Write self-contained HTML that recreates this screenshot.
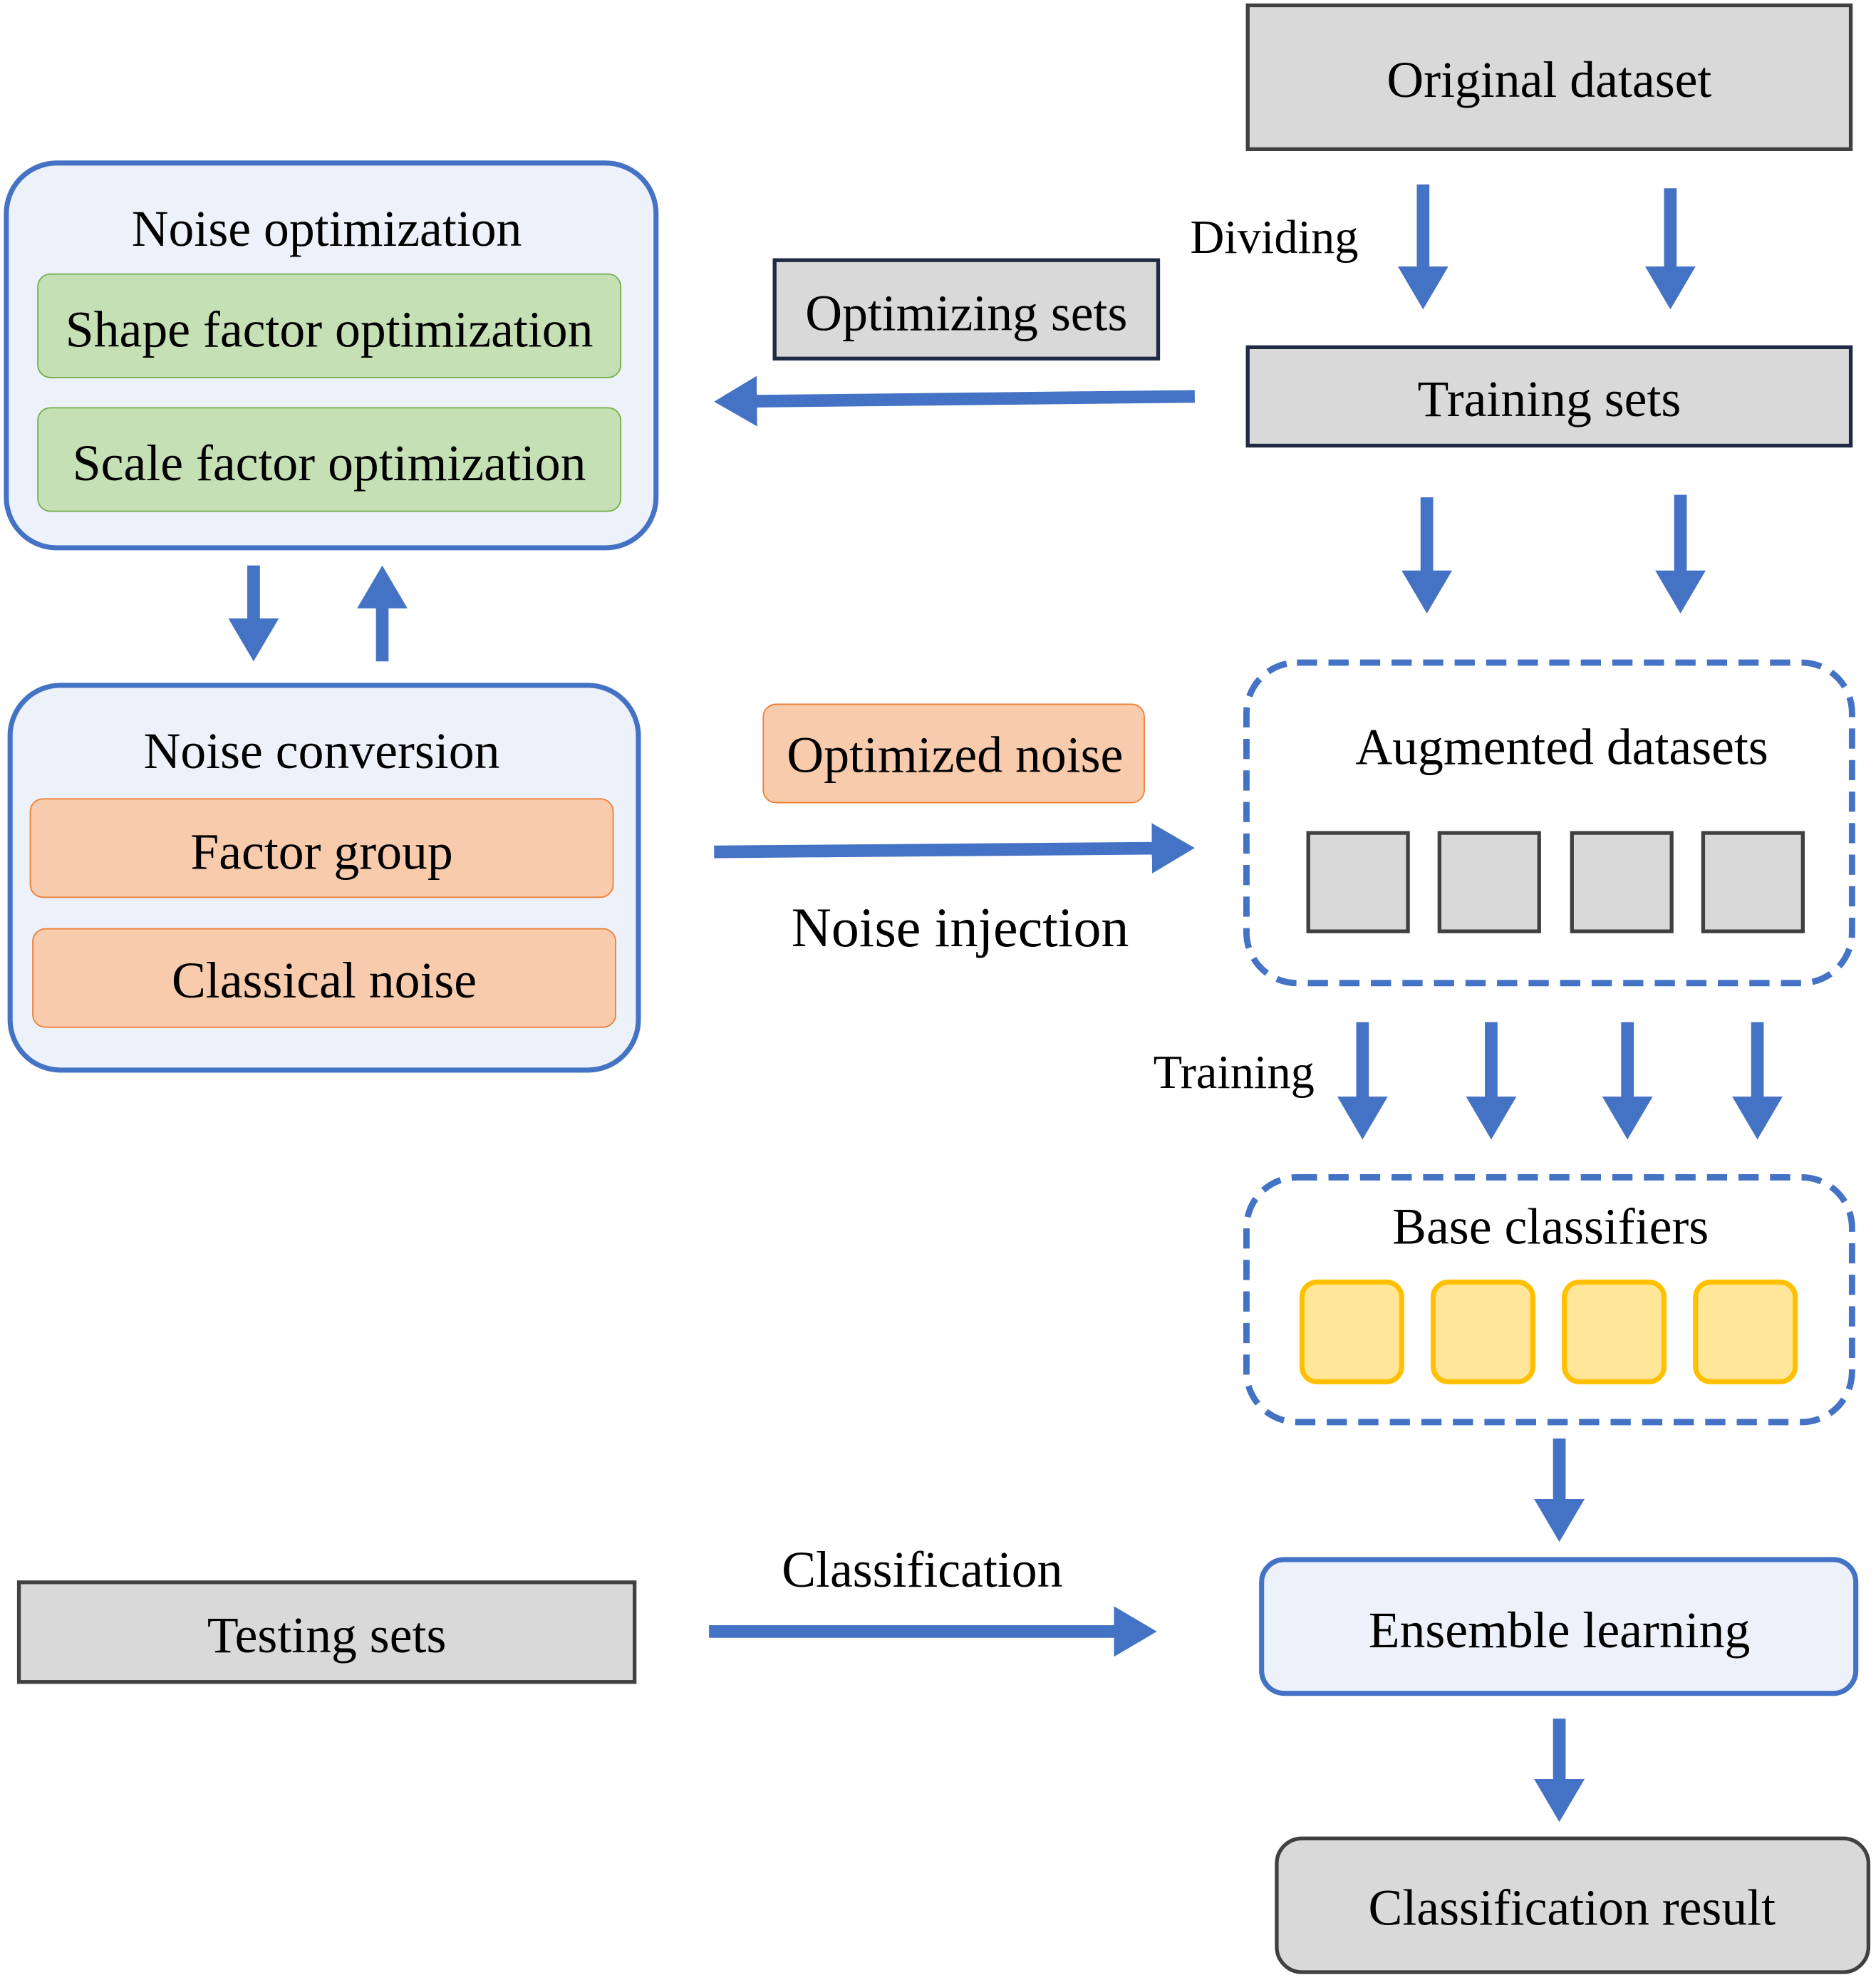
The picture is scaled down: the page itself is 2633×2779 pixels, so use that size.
<!DOCTYPE html>
<html><head><meta charset="utf-8"><style>
html,body{margin:0;padding:0;background:#fff;}
svg{display:block;}
text{font-family:"Liberation Serif",serif;fill:#000;}
</style></head><body>
<svg width="2633" height="2779" viewBox="0 0 1487 1569" xmlns="http://www.w3.org/2000/svg">
<defs>
<marker id="ah" markerWidth="4" markerHeight="4" refX="2.2" refY="2" orient="auto" markerUnits="strokeWidth">
<path d="M0,0 L3.4,2 L0,4 z" fill="#4472c4"/>
</marker>
</defs>
<rect width="1487" height="1569" fill="#fff"/>
<g stroke="#4472c4" stroke-width="10" fill="none" marker-end="url(#ah)">
<line x1="1128" y1="146" x2="1128" y2="233"/>
<line x1="1324" y1="149" x2="1324" y2="233"/>
<line x1="947" y1="314" x2="578" y2="318"/>
<line x1="201" y1="448" x2="201" y2="512"/>
<line x1="303" y1="524" x2="303" y2="460"/>
<line x1="566" y1="675" x2="935" y2="672"/>
<line x1="1131" y1="394" x2="1131" y2="474"/>
<line x1="1332" y1="392" x2="1332" y2="474"/>
<line x1="1080" y1="810" x2="1080" y2="891"/>
<line x1="1182" y1="810" x2="1182" y2="891"/>
<line x1="1290" y1="810" x2="1290" y2="891"/>
<line x1="1393" y1="810" x2="1393" y2="891"/>
<line x1="1236" y1="1140" x2="1236" y2="1210"/>
<line x1="1236" y1="1362" x2="1236" y2="1432"/>
<line x1="562" y1="1293" x2="905" y2="1293"/>
</g>
<g font-size="40.5" text-anchor="middle" dominant-baseline="central">
<rect x="989" y="4" width="478" height="114" fill="#d9d9d9" stroke="#404040" stroke-width="3"/>
<text x="1228" y="63">Original dataset</text>
<text x="1010" y="188" font-size="37.5">Dividing</text>
<rect x="614" y="206" width="304" height="78" fill="#d9d9d9" stroke="#1f2a44" stroke-width="3"/>
<text x="766" y="248">Optimizing sets</text>
<rect x="989" y="275" width="478" height="78" fill="#d9d9d9" stroke="#1f2a44" stroke-width="3"/>
<text x="1228" y="316">Training sets</text>

<rect x="5" y="129" width="515" height="305" rx="40" fill="#edf2fa" stroke="#4472c4" stroke-width="4"/>
<text x="259" y="181">Noise optimization</text>
<rect x="30" y="217" width="462" height="82" rx="10" fill="#c5e0b4" stroke="#70ad47" stroke-width="1"/>
<text x="261" y="261">Shape factor optimization</text>
<rect x="30" y="323" width="462" height="82" rx="10" fill="#c5e0b4" stroke="#70ad47" stroke-width="1"/>
<text x="261" y="367">Scale factor optimization</text>

<rect x="8" y="543" width="498" height="305" rx="40" fill="#edf2fa" stroke="#4472c4" stroke-width="4"/>
<text x="255" y="595">Noise conversion</text>
<rect x="24" y="633" width="462" height="78" rx="10" fill="#f8cbad" stroke="#ed7d31" stroke-width="1"/>
<text x="255" y="675">Factor group</text>
<rect x="26" y="736" width="462" height="78" rx="10" fill="#f8cbad" stroke="#ed7d31" stroke-width="1"/>
<text x="257" y="777">Classical noise</text>

<rect x="605" y="558" width="302" height="78" rx="10" fill="#f8cbad" stroke="#ed7d31" stroke-width="1"/>
<text x="757" y="598">Optimized noise</text>
<text x="761" y="735" font-size="44">Noise injection</text>

<rect x="988" y="525" width="480" height="254" rx="40" fill="#fff" stroke="#4472c4" stroke-width="5" stroke-dasharray="16,9"/>
<text x="1238" y="592">Augmented datasets</text>
<g fill="#d9d9d9" stroke="#404040" stroke-width="3">
<rect x="1037" y="660" width="79" height="78"/>
<rect x="1141" y="660" width="79" height="78"/>
<rect x="1246" y="660" width="79" height="78"/>
<rect x="1350" y="660" width="79" height="78"/>
</g>
<text x="978" y="850" font-size="37.5">Training</text>

<rect x="988" y="933" width="480" height="194" rx="40" fill="#fff" stroke="#4472c4" stroke-width="5" stroke-dasharray="16,9"/>
<text x="1229" y="972">Base classifiers</text>
<g fill="#ffe699" stroke="#ffc000" stroke-width="4">
<rect x="1032" y="1016" width="79" height="79" rx="12"/>
<rect x="1136" y="1016" width="79" height="79" rx="12"/>
<rect x="1240" y="1016" width="79" height="79" rx="12"/>
<rect x="1344" y="1016" width="79" height="79" rx="12"/>
</g>

<rect x="1000" y="1236" width="471" height="106" rx="18" fill="#edf2fa" stroke="#4472c4" stroke-width="4"/>
<text x="1236" y="1292">Ensemble learning</text>
<rect x="1012" y="1457" width="469" height="106" rx="20" fill="#d9d9d9" stroke="#404040" stroke-width="3"/>
<text x="1246" y="1512">Classification result</text>

<rect x="15" y="1254" width="488" height="79" fill="#d9d9d9" stroke="#404040" stroke-width="3"/>
<text x="259" y="1296">Testing sets</text>
<text x="731" y="1244">Classification</text>
</g>
</svg>
</body></html>
